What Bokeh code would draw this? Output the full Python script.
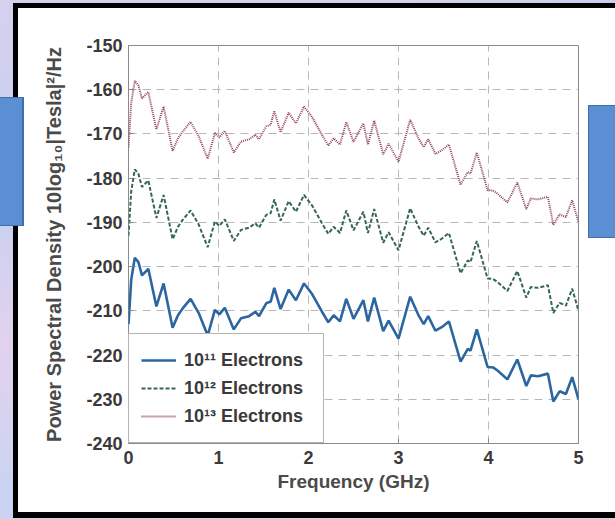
from bokeh.plotting import figure
from bokeh.models import Legend, LegendItem, Range1d, FixedTicker
from bokeh.embed import file_html
from bokeh.resources import INLINE

# Frequency samples (GHz)
freq = [0.00, 0.03, 0.07, 0.11, 0.15, 0.22, 0.31, 0.39, 0.49, 0.55,
        0.60, 0.69, 0.78, 0.88, 0.96, 1.01, 1.07, 1.17, 1.25, 1.34,
        1.41, 1.45, 1.53, 1.58, 1.62, 1.69, 1.78, 1.86, 1.95, 2.04,
        2.15, 2.22, 2.28, 2.35, 2.42, 2.50, 2.61, 2.66, 2.73, 2.83,
        2.89, 3.00, 3.13, 3.22, 3.28, 3.33, 3.41, 3.48, 3.56, 3.69,
        3.77, 3.80, 3.87, 3.99, 4.05, 4.10, 4.21, 4.32, 4.42, 4.47,
        4.55, 4.66, 4.72, 4.79, 4.86, 4.93, 5.00]

# PSD, 10log10|Tesla|^2/Hz
psd_1e11 = [-213.0, -203.0, -198.0, -199.0, -202.0, -200.5, -209.0, -203.8, -213.8, -211.0,
            -209.5, -207.3, -210.5, -215.6, -209.8, -210.8, -209.3, -214.2, -211.7, -211.2,
            -210.2, -211.2, -208.3, -207.9, -204.8, -209.6, -205.2, -207.6, -203.8, -206.2,
            -210.2, -212.6, -211.0, -212.4, -207.3, -211.8, -207.6, -212.4, -207.0, -214.6,
            -212.2, -216.3, -206.8, -210.9, -213.0, -211.2, -214.5, -213.7, -212.4, -221.5,
            -218.6, -219.0, -214.2, -222.7, -222.8, -223.5, -225.5, -221.0, -227.0, -224.6,
            -224.8, -224.2, -230.5, -228.2, -228.8, -225.0, -230.0]

psd_1e12 = [-193.0, -183.0, -178.0, -179.0, -182.0, -180.5, -189.0, -183.8, -193.8, -191.0,
            -189.5, -187.3, -190.5, -195.6, -189.8, -190.8, -189.3, -194.2, -191.7, -191.2,
            -190.2, -191.2, -188.3, -187.9, -184.8, -189.6, -185.2, -187.6, -183.8, -186.2,
            -190.2, -192.6, -191.0, -192.4, -187.3, -191.8, -187.6, -192.4, -187.0, -194.6,
            -192.2, -196.3, -186.8, -190.9, -193.0, -191.2, -194.5, -193.7, -192.4, -201.5,
            -198.6, -199.0, -194.2, -202.7, -202.8, -203.5, -205.5, -201.0, -207.0, -204.6,
            -204.8, -204.2, -210.5, -208.2, -208.8, -205.0, -210.0]

psd_1e13 = [-173.0, -163.0, -158.0, -159.0, -162.0, -160.5, -169.0, -163.8, -173.8, -171.0,
            -169.5, -167.3, -170.5, -175.6, -169.8, -170.8, -169.3, -174.2, -171.7, -171.2,
            -170.2, -171.2, -168.3, -167.9, -164.8, -169.6, -165.2, -167.6, -163.8, -166.2,
            -170.2, -172.6, -171.0, -172.4, -167.3, -171.8, -167.6, -172.4, -167.0, -174.6,
            -172.2, -176.3, -166.8, -170.9, -173.0, -171.2, -174.5, -173.7, -172.4, -181.5,
            -178.6, -179.0, -174.2, -182.7, -182.8, -183.5, -185.5, -181.0, -187.0, -184.6,
            -184.8, -184.2, -190.5, -188.2, -188.8, -185.0, -190.0]

series_labels = ["10\u00b9\u00b9 Electrons", "10\u00b9\u00b2 Electrons", "10\u00b9\u00b3 Electrons"]
x_ticks = [0, 1, 2, 3, 4, 5]
y_ticks = [-240, -230, -220, -210, -200, -190, -180, -170, -160, -150]

# page backdrop: lavender slide, black frame, white card and two blue side panels
def _rect(color, x, y, w, h):
    return f"linear-gradient({color},{color}) {x}px {y}px / {w}px {h}px no-repeat"

backdrop = ", ".join([
    _rect("#5b8fd3", 0, 98, 22, 127),
    _rect("#3f6ea8", 0, 97, 24, 129),
    _rect("#5b8fd3", 589, 106, 30, 131),
    _rect("#3f6ea8", 588, 105, 30, 133),
    _rect("#ffffff", 18, 8, 600, 504),
    _rect("#000000", 13, 3, 610, 515),
    "linear-gradient(170deg, #d6d0ef 0%, #c5d0f0 30%, #e2d2ee 55%, #c8d4f2 80%, #d9cdee 100%)",
])

p = figure(width=615, height=519, output_backend="svg", toolbar_location=None,
           x_range=Range1d(0, 5), y_range=Range1d(-240, -150),
           min_border_left=128, min_border_right=37,
           min_border_top=45, min_border_bottom=76,
           styles={"background": backdrop})

p.background_fill_color = "white"
p.border_fill_alpha = 0
p.outline_line_color = "#8a8a8a"
p.outline_line_width = 1

for ax in p.axis:
    ax.axis_line_color = None
    ax.major_tick_in = 5
    ax.major_tick_out = 0
    ax.major_tick_line_color = "#8a8a8a"
    ax.minor_tick_line_color = None
    ax.major_label_text_font = "Liberation Sans"
    ax.major_label_text_font_style = "bold"
    ax.major_label_text_font_size = "18px"
    ax.major_label_text_color = "#3a3a3a"
    ax.axis_label_text_font = "Liberation Sans"
    ax.axis_label_text_font_style = "bold"
    ax.axis_label_text_color = "#4a4a4a"

p.xaxis.ticker = FixedTicker(ticks=x_ticks)
p.yaxis.ticker = FixedTicker(ticks=y_ticks)
p.yaxis.major_label_overrides = {t: str(t) for t in y_ticks}

p.xaxis.axis_label = "Frequency (GHz)"
p.xaxis.axis_label_text_font_size = "19px"
p.xaxis.major_label_standoff = 7
p.xaxis.axis_label_standoff = 4
p.yaxis.axis_label = "Power Spectral Density 10log\u2081\u2080|Tesla|\u00b2/Hz"
p.yaxis.axis_label_text_font_size = "20px"
p.yaxis.major_label_standoff = 6
p.yaxis.axis_label_standoff = 18

p.grid.grid_line_color = "#b8b8b8"
p.grid.grid_line_dash = "8 6"
p.grid.grid_line_width = 1

r1 = p.line(freq, psd_1e11, line_color="#2c66a0", line_width=2.6)
r2 = p.line(freq, psd_1e12, line_color="#34684f", line_width=2.0, line_dash="4 2")
r3 = p.line(freq, psd_1e13, line_color="#94465a", line_width=2.0, line_dash="1 1")

legend = Legend(items=[LegendItem(label=series_labels[0], renderers=[r1]),
                       LegendItem(label=series_labels[1], renderers=[r2]),
                       LegendItem(label=series_labels[2], renderers=[r3])],
                location="bottom_left", margin=0, padding=12, spacing=0,
                glyph_width=35, glyph_height=28, label_height=28,
                label_width=127, label_standoff=8,
                border_line_color="#6a6a6a", border_line_width=1,
                background_fill_color="white", background_fill_alpha=1)
legend.label_text_font = "Liberation Sans"
legend.label_text_font_style = "bold"
legend.label_text_font_size = "18px"
legend.label_text_color = "#3a3a3a"
p.add_layout(legend)

open("out.html", "w").write(file_html(p, INLINE))
